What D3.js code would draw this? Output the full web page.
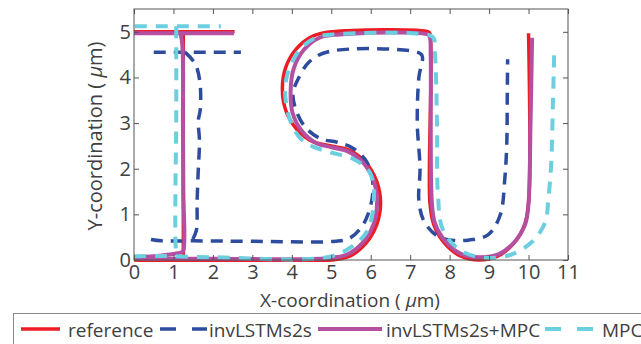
<!DOCTYPE html>
<html>
<head>
<meta charset="utf-8">
<script src="https://cdn.jsdelivr.net/npm/d3@7"></script>
<style>
  body { margin: 0; background: #fff; }
  text { font-family: "Open Sans", sans-serif; fill: #404040; }
</style>
</head>
<body>
<svg id="chart" width="641" height="344"></svg>
<script>
// tick values
const xTicks = [0, 1, 2, 3, 4, 5, 6, 7, 8, 9, 10, 11];
const yTicks = [0, 1, 2, 3, 4, 5];

// reference trajectory (x, y in um), one array per stroke
const refTop = [[0, 5], [2.55, 5]];
const refStem = [[1.25, 5], [1.25, 0]];
const refMain = [[0, 0], [5, 0], [5.48, 0.09], [5.88, 0.37], [6.15, 0.77], [6.25, 1.25], [6.15, 1.73],
  [5.88, 2.13], [5.48, 2.40], [5, 2.5], [4.52, 2.60], [4.12, 2.87], [3.85, 3.27], [3.76, 3.75],
  [3.85, 4.23], [4.12, 4.63], [4.52, 4.90], [5, 5], [7.46, 5], [7.5, 4.96], [7.5, 1.25], [7.6, 0.77],
  [7.87, 0.37], [8.27, 0.09], [8.75, 0], [9.23, 0.09], [9.63, 0.37], [9.9, 0.77], [10, 1.25], [10, 4.97]];

// invLSTMs2s
const lstmTop = [[0.5, 4.55], [2.71, 4.55]];
const lstmStem = [[1.3, 4.55], [1.55, 4.3], [1.67, 3.9], [1.68, 3.3], [1.63, 3.05], [1.66, 2.6],
  [1.63, 2.0], [1.6, 1.3], [1.58, 0.65], [1.48, 0.44]];
const lstmMain = [[0.43, 0.45], [0.7, 0.42], [1.5, 0.42], [3, 0.41], [5.1, 0.41], [5.45, 0.47],
  [5.75, 0.7], [5.93, 1.0], [6.05, 1.45], [6.02, 1.9], [5.86, 2.2], [5.55, 2.45], [5.15, 2.58],
  [4.75, 2.65], [4.35, 2.9], [4.1, 3.3], [4.03, 3.65], [4.15, 3.95], [4.45, 4.35], [4.95, 4.57],
  [7.1, 4.57], [7.3, 4.48], [7.22, 4.0], [7.18, 3.0], [7.25, 2.0], [7.22, 1.3], [7.35, 0.85],
  [7.7, 0.52], [8.1, 0.43], [8.5, 0.44], [8.97, 0.55], [9.28, 0.98], [9.4, 1.8], [9.45, 2.6],
  [9.46, 3.5], [9.47, 4.4]];

// invLSTMs2s+MPC
const mixTop = [[0, 4.97], [2.53, 4.97]];
const mixStem = [[1.18, 4.97], [1.22, 4.75], [1.24, 4.4], [1.24, 3], [1.25, 1.5], [1.25, 0.2],
  [1.2, 0.17], [0.9, 0.12], [0.5, 0.08], [0, 0.06]];
const mixMain = [[0, 0.03], [2, 0.03], [4.9, 0.04], [5.4, 0.12], [5.8, 0.38], [6.07, 0.78],
  [6.16, 1.25], [6.08, 1.72], [5.82, 2.12], [5.42, 2.38], [5.0, 2.47], [4.6, 2.57], [4.25, 2.83],
  [4.02, 3.22], [3.97, 3.7], [4.05, 4.2], [4.3, 4.6], [4.7, 4.87], [5.2, 4.94], [7.45, 4.94],
  [7.5, 4.88], [7.52, 4.5], [7.55, 1.25], [7.63, 0.8], [7.9, 0.4], [8.3, 0.13], [8.78, 0.06],
  [9.25, 0.13], [9.65, 0.4], [9.92, 0.8], [10.0, 1.25], [10.05, 3], [10.09, 4.87]];

// MPC
const mpcTop = [[0.02, 5.12], [2.2, 5.12]];
const mpcStem = [[1.07, 5.12], [1.07, 3], [1.05, 1.5], [1.05, 0.45], [1.07, 0.1]];
const mpcMain = [[0, 0.08], [0.6, 0.09], [2, 0.06], [4.9, 0.06], [5.48, 0.27], [5.9, 0.62],
  [6.08, 1.3], [5.98, 1.91], [5.55, 2.22], [4.97, 2.36], [4.5, 2.5], [4.2, 2.68], [3.95, 3.08],
  [3.83, 3.67], [3.9, 4.1], [4.2, 4.61], [4.63, 4.88], [5.13, 4.95], [7.3, 4.95], [7.58, 4.88],
  [7.63, 4.5], [7.68, 3], [7.7, 1.5], [7.83, 0.66], [8.26, 0.22], [8.85, 0.05], [9.53, 0.11],
  [10.09, 0.4], [10.42, 0.82], [10.5, 1.32], [10.57, 2.05], [10.62, 3.5], [10.65, 4.55]];

const seriesNames = ["reference", "invLSTMs2s", "invLSTMs2s+MPC", "MPC"];

const series = [
  { name: seriesNames[0], strokes: [refTop, refStem, refMain], color: "#ed1c24", width: 3.5, dash: null },
  { name: seriesNames[1], strokes: [lstmTop, lstmStem, lstmMain], color: "#2e4c9e", width: 3.5, dash: "12,8" },
  { name: seriesNames[2], strokes: [mixTop, mixStem, mixMain], color: "#b54fa0", width: 4, dash: null },
  { name: seriesNames[3], strokes: [mpcTop, mpcStem, mpcMain], color: "#6ccfe0", width: 4, dash: "12,9" }
];

const margin = { top: 9, right: 73, bottom: 84, left: 134 };
const width = 641 - margin.left - margin.right;
const height = 344 - margin.top - margin.bottom;

const svg = d3.select("#chart");
const g = svg.append("g").attr("transform", `translate(${margin.left},${margin.top})`);

const x = d3.scaleLinear().domain([0, 11]).range([0, width]);
const y = d3.scaleLinear().domain([0, 5.5]).range([height, 0]);

const line = d3.line()
  .x(d => x(d[0]))
  .y(d => y(d[1]))
  .curve(d3.curveCatmullRom.alpha(0.5));

g.append("defs").append("clipPath").attr("id", "clip")
  .append("rect").attr("x", -2).attr("y", -2).attr("width", width + 4).attr("height", height + 4);

const plot = g.append("g").attr("clip-path", "url(#clip)");
series.forEach(s => {
  s.strokes.forEach(pts => {
    plot.append("path")
      .attr("d", line(pts))
      .attr("fill", "none")
      .attr("stroke", s.color)
      .attr("stroke-width", s.width)
      .attr("stroke-dasharray", s.dash)
      .attr("stroke-linejoin", "round");
  });
});

// axes (box with inward ticks)
const axisColor = "#555";
const styleAxis = sel => {
  sel.select(".domain").remove();
  sel.selectAll(".tick line").attr("stroke", axisColor);
  sel.selectAll(".tick text").attr("fill", "#404040").style("font-size", "20px").style("font-family", "Open Sans, sans-serif");
};

g.append("g").attr("transform", `translate(0,${height})`)
  .call(d3.axisBottom(x).tickValues(xTicks).tickSize(-5).tickPadding(6).tickFormat(d3.format("d")))
  .call(styleAxis)
  .call(a => a.selectAll(".tick text").attr("dy", "0.71em").attr("y", 5));
g.append("g")
  .call(d3.axisTop(x).tickValues(xTicks).tickSize(-5).tickFormat(""))
  .call(styleAxis);
g.append("g")
  .call(d3.axisLeft(y).tickValues(yTicks).tickSize(-5).tickPadding(2).tickFormat(d3.format("d")))
  .call(styleAxis)
  .call(a => a.selectAll(".tick text").attr("x", -3));
g.append("g").attr("transform", `translate(${width},0)`)
  .call(d3.axisRight(y).tickValues(yTicks).tickSize(-5).tickFormat(""))
  .call(styleAxis);

g.append("rect")
  .attr("width", width).attr("height", height)
  .attr("fill", "none").attr("stroke", axisColor).attr("stroke-width", 1);

// axis titles
const xTitle = g.append("text")
  .attr("x", width / 2 - 1).attr("y", height + 47)
  .attr("text-anchor", "middle").style("font-size", "19px");
xTitle.append("tspan").text("X-coordination ( ");
xTitle.append("tspan").attr("font-style", "italic").text("μ");
xTitle.append("tspan").text("m)");

const yTitle = g.append("text")
  .attr("transform", `translate(-32,127) rotate(-90)`)
  .attr("text-anchor", "middle").style("font-size", "20px");
yTitle.append("tspan").text("Y-coordination ( ");
yTitle.append("tspan").attr("font-style", "italic").text("μ");
yTitle.append("tspan").text("m)");

// legend
const legendItems = [
  { x1: 21, x2: 60, tx: 68 },
  { x1: 160, x2: 207, tx: 209 },
  { x1: 318, x2: 382, tx: 386 },
  { x1: 545, x2: 593, tx: 602 }
];
const legend = svg.append("g");
legend.append("rect")
  .attr("x", 13.5).attr("y", 313.5).attr("width", 640).attr("height", 40)
  .attr("fill", "#fff").attr("stroke", "#888").attr("stroke-width", 1);
legendItems.forEach((it, i) => {
  const s = series[i];
  legend.append("line")
    .attr("x1", it.x1).attr("x2", it.x2).attr("y1", 329).attr("y2", 329)
    .attr("stroke", s.color).attr("stroke-width", s.width)
    .attr("stroke-dasharray", s.dash ? "16,16" : null);
  legend.append("text")
    .attr("x", it.tx).attr("y", 337)
    .style("font-size", "19px")
    .text(s.name);
});
</script>
</body>
</html>
